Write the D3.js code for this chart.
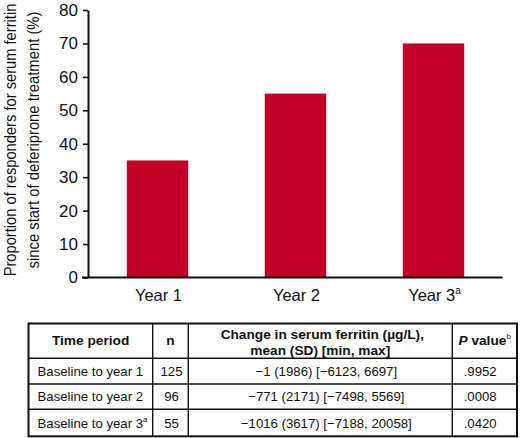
<!DOCTYPE html>
<html><head><meta charset="utf-8">
<script src="https://cdn.jsdelivr.net/npm/d3@7"></script>
<style>
html,body{margin:0;padding:0;background:#fff;}
svg{display:block;}
text{font-family:"Liberation Sans",Arial,Helvetica,sans-serif;fill:#111;}
</style></head><body>
<svg id="chart" width="520" height="438"></svg>
<script>
// ---- data ----
const categories = ["Year 1", "Year 2", "Year 3"];
const categorySup = ["", "", "a"];
const responders = [35, 55, 70];
const yTickValues = [0, 10, 20, 30, 40, 50, 60, 70, 80];
const yTitleLines = ["Proportion of responders for serum ferritin", "since start of deferiprone treatment (%)"];

const headerTime = "Time period";
const headerN = "n";
const headerChange = ["Change in serum ferritin (µg/L),", "mean (SD) [min, max]"];
const headerP = ["P", " value", "b"];
const periods = ["Baseline to year 1", "Baseline to year 2", "Baseline to year 3"];
const periodSup = ["", "", "a"];
const nValues = ["125", "96", "55"];
const changeValues = ["−1 (1986) [−6123, 6697]", "−771 (2171) [−7498, 5569]", "−1016 (3617) [−7188, 20058]"];
const pValues = [".9952", ".0008", ".0420"];

// ---- layout ----
const svg = d3.select("#chart");
const plot = {left: 88, right: 502.5, top: 10, bottom: 277.5};
const barColor = "#c00026";

const x = d3.scaleBand().domain(categories).range([plot.left + 0.5, plot.right]).paddingInner(0.555).paddingOuter(0.2775);
const y = d3.scaleLinear().domain([0, 80]).range([plot.bottom, plot.top]);

// bars
svg.append("g").selectAll("rect").data(responders).join("rect")
  .attr("x", (d, i) => x(categories[i]))
  .attr("y", d => y(d))
  .attr("width", x.bandwidth())
  .attr("height", d => y(0) - y(d))
  .attr("fill", barColor);

// y axis
const yAxis = svg.append("g").attr("transform", `translate(${plot.left},0)`)
  .call(d3.axisLeft(y).tickValues(yTickValues).tickSize(5).tickPadding(5).tickSizeOuter(0));
yAxis.select(".domain").attr("stroke", "#111").attr("stroke-width", 2);
yAxis.selectAll(".tick line").attr("stroke", "#111").attr("stroke-width", 1.6);
yAxis.selectAll(".tick text").attr("font-size", 17).attr("fill", "#111")
  .style("font-family", '"Liberation Sans",Arial,sans-serif');

// x baseline
svg.append("line")
  .attr("x1", plot.left - 6).attr("x2", plot.right)
  .attr("y1", y(0)).attr("y2", y(0))
  .attr("stroke", "#111").attr("stroke-width", 2);

// x labels
const xl = svg.append("g").selectAll("text").data(categories).join("text")
  .attr("x", d => x(d) + x.bandwidth() / 2 + 1)
  .attr("y", y(0) + 23.5)
  .attr("text-anchor", "middle")
  .attr("font-size", 16.5);
xl.append("tspan").text(d => d);
xl.append("tspan").text((d, i) => categorySup[i])
  .attr("font-size", 10).attr("dy", -7);

// y title (condensed by horizontal scaling along the text direction)
const titleX = [16, 38.5];
const titleLen = [273, 257];
yTitleLines.forEach((t, i) => {
  const el = svg.append("text")
    .attr("text-anchor", "middle")
    .attr("font-size", 17)
    .text(t);
  const len = el.node().getComputedTextLength();
  const s = titleLen[i] / len;
  el.attr("transform", `translate(${titleX[i]},140) rotate(-90) scale(${s},1)`);
});

// ---- table ----
const colX = [28.5, 152.7, 188.3, 452.3, 517];
const rowY = [323.5, 358.3, 384, 409.3, 436.3];
const tbl = svg.append("g");
const colMid = i => (colX[i] + colX[i + 1]) / 2;

// inner lines
colX.slice(1, -1).forEach(cx => tbl.append("line").attr("x1", cx).attr("x2", cx)
  .attr("y1", rowY[0]).attr("y2", rowY[rowY.length - 1]).attr("stroke", "#111").attr("stroke-width", 1.4));
rowY.slice(1, -1).forEach(ry => tbl.append("line").attr("y1", ry).attr("y2", ry)
  .attr("x1", colX[0]).attr("x2", colX[colX.length - 1]).attr("stroke", "#111").attr("stroke-width", 1.4));
tbl.append("rect").attr("x", colX[0]).attr("y", rowY[0])
  .attr("width", colX[colX.length - 1] - colX[0]).attr("height", rowY[rowY.length - 1] - rowY[0])
  .attr("fill", "none").attr("stroke", "#111").attr("stroke-width", 2);

// header
const hBase = 344.5;
const hfs = 13.7;
tbl.append("text").attr("x", colMid(0)).attr("y", hBase).attr("text-anchor", "middle")
  .attr("font-size", hfs).attr("font-weight", "bold").text(headerTime);
tbl.append("text").attr("x", colMid(1)).attr("y", hBase).attr("text-anchor", "middle")
  .attr("font-size", hfs).attr("font-weight", "bold").text(headerN);
headerChange.forEach((t, i) => tbl.append("text").attr("x", colMid(2) + (i === 0 ? 2 : 0)).attr("y", 339 + i * 15.7)
  .attr("text-anchor", "middle").attr("font-size", hfs).attr("font-weight", "bold").text(t));
const ph = tbl.append("text").attr("x", colMid(3)).attr("y", hBase).attr("text-anchor", "middle")
  .attr("font-size", hfs).attr("font-weight", "bold");
ph.append("tspan").attr("font-style", "italic").text(headerP[0]);
ph.append("tspan").text(headerP[1]);
ph.append("tspan").attr("font-size", 8).attr("dy", -6).attr("font-weight", "normal").text(headerP[2]);

// body
const bfs = 13.2;
periods.forEach((p, i) => {
  const yb = (rowY[i + 1] + rowY[i + 2]) / 2 + 4.7;
  const t = tbl.append("text").attr("x", colX[0] + 9).attr("y", yb).attr("font-size", bfs);
  t.append("tspan").text(p);
  if (periodSup[i]) t.append("tspan").attr("font-size", 8).attr("dy", -6).text(periodSup[i]);
  tbl.append("text").attr("x", colMid(1) + 1).attr("y", yb).attr("text-anchor", "middle").attr("font-size", bfs).text(nValues[i]);
  tbl.append("text").attr("x", colMid(2) + 6).attr("y", yb).attr("text-anchor", "middle").attr("font-size", bfs).text(changeValues[i]);
  tbl.append("text").attr("x", colMid(3) - 4.5).attr("y", yb).attr("text-anchor", "middle").attr("font-size", bfs).text(pValues[i]);
});
</script>
</body></html>
